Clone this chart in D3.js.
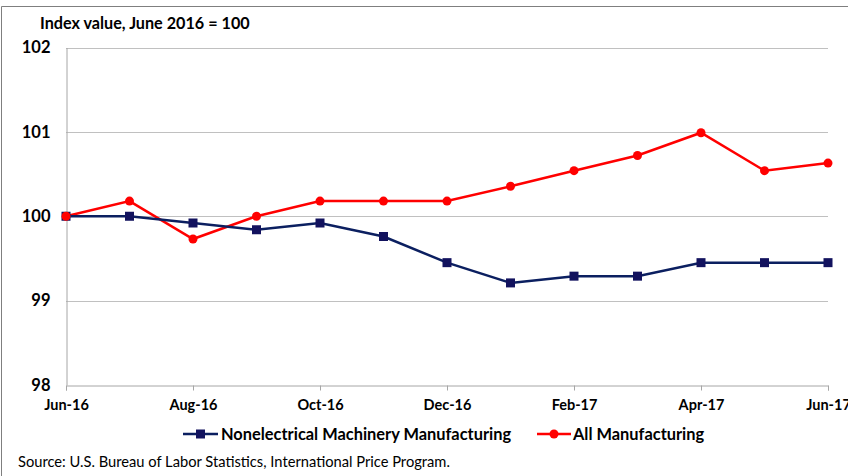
<!DOCTYPE html>
<html><head><meta charset="utf-8">
<script src="https://cdn.jsdelivr.net/npm/d3@7"></script>
<style>body{margin:0;background:#fff}svg{display:block}text{font-family:Lato,"Open Sans",sans-serif}</style>
</head><body><svg id="c" width="848" height="476"></svg>
<script>
const months = ["Jun-16","Jul-16","Aug-16","Sep-16","Oct-16","Nov-16","Dec-16","Jan-17","Feb-17","Mar-17","Apr-17","May-17","Jun-17"];
const tickLabels = ["Jun-16","Aug-16","Oct-16","Dec-16","Feb-17","Apr-17","Jun-17"];
const machinery = [100,100,99.92,99.84,99.92,99.76,99.45,99.21,99.29,99.29,99.45,99.45,99.45];
const allMfg = [100,100.18,99.73,100,100.18,100.18,100.18,100.355,100.54,100.72,100.99,100.54,100.63];
const yTicks = [98,99,100,101,102];

const svg = d3.select("#c");
const L=66,R=828,T=47.5,B=385;
const x = d3.scalePoint().domain(months).range([L,R]);
const y = d3.scaleLinear().domain([98,102]).range([B,T]);

// outer frame
svg.append("line").attr("x1",1.5).attr("x2",848).attr("y1",6.5).attr("y2",6.5).attr("stroke","#7f7f7f").attr("stroke-width",1);
svg.append("line").attr("x1",1.5).attr("x2",1.5).attr("y1",6.5).attr("y2",476).attr("stroke","#7f7f7f").attr("stroke-width",1);

// gridlines
svg.append("g").selectAll("line").data(yTicks.filter(d=>d>98)).join("line")
 .attr("x1",L).attr("x2",R).attr("y1",d=>Math.round(y(d))+0.5).attr("y2",d=>Math.round(y(d))+0.5)
 .attr("stroke","#c0c0c0").attr("stroke-width",1);

// y axis
const ya = svg.append("g").attr("transform",`translate(${L+0.5},0)`)
 .call(d3.axisLeft(y).tickValues(yTicks).tickSize(0).tickPadding(16).tickFormat(d3.format("d")));
ya.select(".domain").attr("stroke","#a6a6a6");
ya.selectAll("text").attr("font-size",16.5).attr("font-weight","bold").attr("fill","#000").attr("font-family","Lato");

// x axis
const xa = svg.append("g").attr("transform",`translate(0,${B+0.5})`)
 .call(d3.axisBottom(x).tickValues(tickLabels).tickSize(5).tickPadding(9));
xa.select(".domain").attr("stroke","#a6a6a6");
xa.selectAll(".tick line").attr("stroke","#a6a6a6");
xa.selectAll("text").attr("font-size",14.5).attr("font-weight","bold").attr("fill","#000").attr("font-family","Lato");

// title
svg.append("text").attr("x",40).attr("y",29).attr("font-size",16.2).attr("font-weight","bold").text("Index value, June 2016 = 100");

const line = d3.line().x((d,i)=>x(months[i])).y(d=>y(d));
// all manufacturing
svg.append("path").datum(allMfg).attr("d",line).attr("fill","none").attr("stroke","#ff0000").attr("stroke-width",2.5);
// machinery
svg.append("path").datum(machinery).attr("d",line).attr("fill","none").attr("stroke","#0b1f60").attr("stroke-width",2.5);
svg.append("g").selectAll("rect").data(machinery).join("rect")
 .attr("x",(d,i)=>x(months[i])-4.5).attr("y",d=>y(d)-4.5).attr("width",9).attr("height",9).attr("fill","#12125e");
svg.append("g").selectAll("circle").data(allMfg).join("circle")
 .attr("cx",(d,i)=>x(months[i])).attr("cy",d=>y(d)).attr("r",4.5).attr("fill","#ff0000");

// legend
const lg = svg.append("g");
lg.append("line").attr("x1",183).attr("x2",218).attr("y1",434).attr("y2",434).attr("stroke","#0b1f60").attr("stroke-width",2.5);
lg.append("rect").attr("x",196).attr("y",429.5).attr("width",9).attr("height",9).attr("fill","#12125e");
lg.append("text").attr("x",221).attr("y",440).attr("font-size",16.4).attr("font-weight","bold").text("Nonelectrical Machinery Manufacturing");
lg.append("line").attr("x1",537).attr("x2",571).attr("y1",434).attr("y2",434).attr("stroke","#ff0000").attr("stroke-width",2.5);
lg.append("circle").attr("cx",554).attr("cy",434).attr("r",4.5).attr("fill","#ff0000");
lg.append("text").attr("x",573).attr("y",440).attr("font-size",16.4).attr("font-weight","bold").text("All Manufacturing");

// source
svg.append("text").attr("x",18).attr("y",467).attr("font-size",14.7).text("Source: U.S. Bureau of Labor Statistics, International Price Program.");
</script></body></html>
